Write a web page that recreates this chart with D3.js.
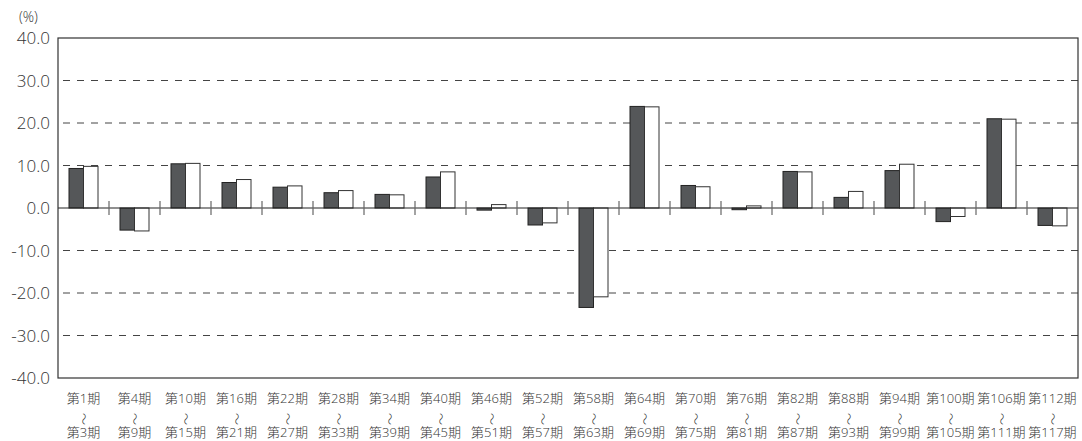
<!DOCTYPE html>
<html><head><meta charset="utf-8">
<script src="https://cdn.jsdelivr.net/npm/d3@7/dist/d3.min.js"></script>
<style>
html,body{margin:0;padding:0;background:#fff;}
svg{display:block;font-family:"Open Sans","Noto Sans CJK JP","Noto Sans",sans-serif;}
</style></head>
<body><svg id="c" width="1082" height="441"></svg>
<script>
const startLabels = ["第1期","第4期","第10期","第16期","第22期","第28期","第34期","第40期","第46期","第52期","第58期","第64期","第70期","第76期","第82期","第88期","第94期","第100期","第106期","第112期"];
const endLabels = ["第3期","第9期","第15期","第21期","第27期","第33期","第39期","第45期","第51期","第57期","第63期","第69期","第75期","第81期","第87期","第93期","第99期","第105期","第111期","第117期"];
const seriesA = [9.3,-5.2,10.4,6.0,4.9,3.6,3.2,7.3,-0.5,-4.0,-23.4,23.9,5.3,-0.4,8.6,2.5,8.8,-3.2,21.0,-4.1];
const seriesB = [9.8,-5.4,10.5,6.7,5.2,4.1,3.1,8.5,0.8,-3.5,-20.9,23.8,5.0,0.5,8.5,3.9,10.3,-2.0,20.9,-4.2];
const yTicks = [40,30,20,10,0,-10,-20,-30,-40];

const svg = d3.select("#c");
const L=58, R=1078, T=38, B=378;
const cats = d3.range(startLabels.length);
const x = d3.scaleBand().domain(cats).range([L,R]).paddingInner(0).paddingOuter(0);
const y = d3.scaleLinear().domain([-40,40]).range([B,T]);
const bw = 14.5;

// gridlines
svg.append("g").selectAll("line").data(yTicks.filter(d=>d!==0 && d!==40 && d!==-40)).join("line")
  .attr("x1",L+5).attr("x2",R).attr("y1",d=>y(d)).attr("y2",d=>y(d))
  .attr("stroke","#444").attr("stroke-width",1).attr("stroke-dasharray","7,7");

// y tick labels
svg.append("g").selectAll("text").data(yTicks).join("text")
  .attr("x",L-8).attr("y",d=>y(d)).attr("dy","0.36em").attr("text-anchor","end")
  .attr("font-size",17).attr("font-weight",300).attr("fill","#333").text(d=>d.toFixed(1));
svg.append("text").attr("x",19).attr("y",22).attr("font-size",14).attr("font-weight",300).attr("fill","#333").text("(%)");

// bars
const g = svg.append("g");
g.selectAll("rect.a").data(seriesA).join("rect").attr("class","a")
  .attr("x",(d,i)=>x(i)+x.bandwidth()/2-bw)
  .attr("y",d=>y(Math.max(0,d))).attr("width",bw)
  .attr("height",d=>Math.abs(y(d)-y(0)))
  .attr("fill","#555759").attr("stroke","#222").attr("stroke-width",1);
g.selectAll("rect.b").data(seriesB).join("rect").attr("class","b")
  .attr("x",(d,i)=>x(i)+x.bandwidth()/2)
  .attr("y",d=>y(Math.max(0,d))).attr("width",bw)
  .attr("height",d=>Math.abs(y(d)-y(0)))
  .attr("fill","#fff").attr("stroke","#333").attr("stroke-width",1);

// zero line
svg.append("line").attr("x1",L).attr("x2",R).attr("y1",y(0)).attr("y2",y(0)).attr("stroke","#222").attr("stroke-width",1.2);
// category ticks
svg.append("g").selectAll("line").data(cats.slice(1)).join("line")
  .attr("x1",d=>x(d)).attr("x2",d=>x(d)).attr("y1",y(0)-7).attr("y2",y(0)+7)
  .attr("stroke","#666").attr("stroke-width",1.2);

// frame
svg.append("rect").attr("x",L).attr("y",T).attr("width",R-L).attr("height",B-T)
  .attr("fill","none").attr("stroke","#333").attr("stroke-width",1.2);

// x labels
const xl = svg.append("g").attr("font-size",13).attr("font-weight",300).attr("fill","#333").attr("text-anchor","middle");
cats.forEach(i=>{
  const cx = x(i)+x.bandwidth()/2;
  xl.append("text").attr("x",cx).attr("y",403).text(startLabels[i]);
  xl.append("text").attr("transform",`translate(${cx},${419}) rotate(90)`).attr("dy","0.35em").attr("font-size",12).text("～");
  xl.append("text").attr("x",cx).attr("y",437).text(endLabels[i]);
});
</script></body></html>
